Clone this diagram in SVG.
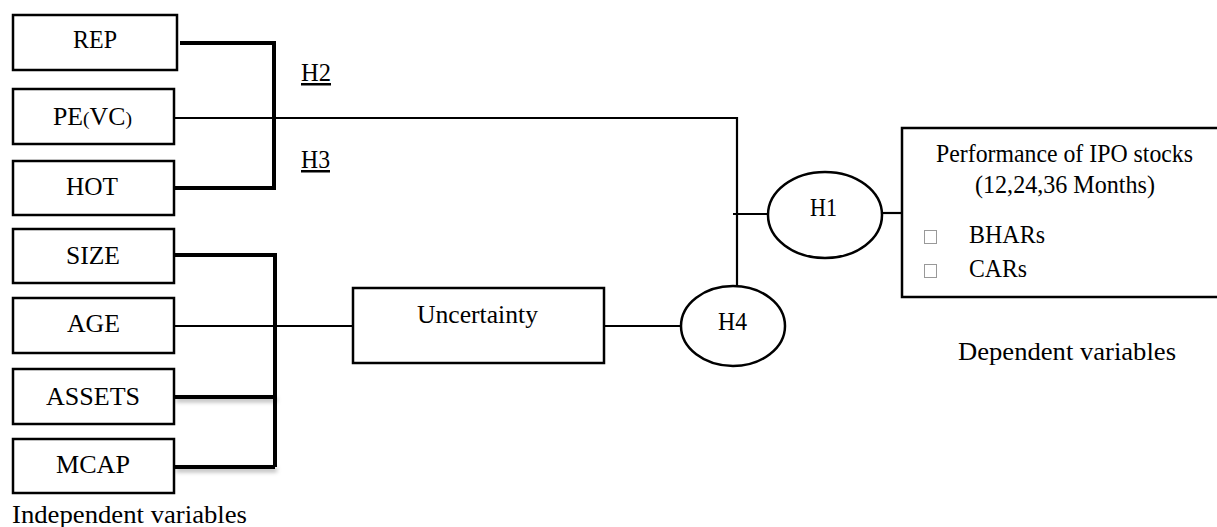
<svg xmlns="http://www.w3.org/2000/svg" width="1217" height="527" viewBox="0 0 1217 527">
<style>
  .box{fill:#fff;stroke:#000;stroke-width:2.5}
  .ell{fill:#fff;stroke:#000;stroke-width:2.5}
  .t{font-family:"Liberation Serif","Times New Roman",serif;font-size:25px;fill:#000}
  .thick{fill:none;stroke:#000;stroke-width:4}
  .thin{fill:none;stroke:#000;stroke-width:2.2}
  .bul{fill:#fff;stroke:#999;stroke-width:1}
</style>
<defs>
  <filter id="sh" filterUnits="userSpaceOnUse" x="160" y="380" width="140" height="100">
    <feDropShadow dx="2" dy="3" stdDeviation="2" flood-color="#000" flood-opacity="0.3"/>
  </filter>
</defs>
<rect width="1217" height="527" fill="#fff"/>
<g id="connectors">
  <path class="thick" d="M180 43 H274 V188 H174"/>
  <path class="thin" d="M174 118 H737 V286"/>
  <path class="thin" d="M733 214 H768"/>
  <path class="thin" d="M883 213 H902"/>
  <path class="thick" d="M174 255 H275 V467"/>
  <path class="thick" filter="url(#sh)" d="M174 397 H275"/>
  <path class="thick" filter="url(#sh)" d="M174 467 H275"/>
  <path class="thin" d="M174 326 H353"/>
  <path class="thin" d="M604 326 H681"/>
</g>
<g id="rep"><rect class="box" x="13" y="15" width="164" height="55"/><text class="t" x="73" y="48" textLength="44" lengthAdjust="spacingAndGlyphs">REP</text></g>
<g id="pevc"><rect class="box" x="13" y="89" width="161" height="55"/><text class="t" x="53" y="125" textLength="79" lengthAdjust="spacingAndGlyphs">PE<tspan font-size="19">(</tspan>VC<tspan font-size="19">)</tspan></text></g>
<g id="hot"><rect class="box" x="13" y="161" width="161" height="54"/><text class="t" x="66" y="195" textLength="52" lengthAdjust="spacingAndGlyphs">HOT</text></g>
<g id="size"><rect class="box" x="13" y="229" width="161" height="54"/><text class="t" x="66" y="264" textLength="54" lengthAdjust="spacingAndGlyphs">SIZE</text></g>
<g id="age"><rect class="box" x="13" y="298" width="161" height="55"/><text class="t" x="67" y="332" textLength="53" lengthAdjust="spacingAndGlyphs">AGE</text></g>
<g id="assets"><rect class="box" x="13" y="369" width="161" height="55"/><text class="t" x="46" y="405" textLength="94" lengthAdjust="spacingAndGlyphs">ASSETS</text></g>
<g id="mcap"><rect class="box" x="13" y="439" width="161" height="54"/><text class="t" x="56" y="473" textLength="74" lengthAdjust="spacingAndGlyphs">MCAP</text></g>
<g id="h2"><text class="t" x="301" y="81" font-size="23" textLength="30" lengthAdjust="spacingAndGlyphs" text-decoration="underline">H2</text></g>
<g id="h3"><text class="t" x="301" y="168" font-size="23" textLength="29" lengthAdjust="spacingAndGlyphs" text-decoration="underline">H3</text></g>
<g id="uncertainty"><rect class="box" x="353" y="288" width="251" height="75"/><text class="t" x="417" y="323" textLength="121" lengthAdjust="spacingAndGlyphs">Uncertainty</text></g>
<g id="h4"><ellipse class="ell" cx="733" cy="326" rx="52" ry="40"/><text class="t" x="718" y="330" font-size="24" textLength="29" lengthAdjust="spacingAndGlyphs">H4</text></g>
<g id="h1"><ellipse class="ell" cx="825" cy="215" rx="57" ry="43"/><text class="t" x="810" y="216" font-size="24" textLength="27" lengthAdjust="spacingAndGlyphs">H1</text></g>
<g id="performance">
  <rect class="box" x="902" y="128" width="340" height="169"/>
  <text class="t" x="936" y="162" font-size="24" textLength="257" lengthAdjust="spacingAndGlyphs">Performance of IPO stocks</text>
  <text class="t" x="975" y="193" font-size="24" textLength="180" lengthAdjust="spacingAndGlyphs">(12,24,36 Months)</text>
  <rect class="bul" x="924.5" y="230.5" width="12" height="13"/>
  <text class="t" x="969" y="243" font-size="24" textLength="76" lengthAdjust="spacingAndGlyphs">BHARs</text>
  <rect class="bul" x="924.5" y="264.5" width="12" height="13"/>
  <text class="t" x="969" y="277" font-size="24" textLength="58" lengthAdjust="spacingAndGlyphs">CARs</text>
</g>
<g id="labels">
  <text class="t" x="12" y="523" font-size="26" textLength="235" lengthAdjust="spacingAndGlyphs">Independent variables</text>
  <text class="t" x="958" y="360" font-size="26" textLength="218" lengthAdjust="spacingAndGlyphs">Dependent variables</text>
</g>
</svg>
